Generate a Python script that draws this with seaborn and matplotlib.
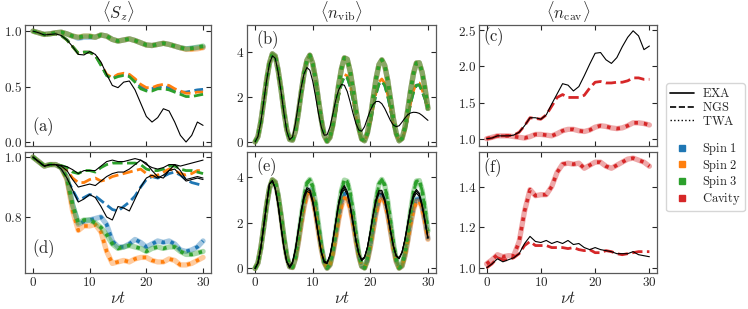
import numpy as np
import matplotlib
matplotlib.use("Agg")
import matplotlib.pyplot as plt
from matplotlib.lines import Line2D
import seaborn as sns

# time grids
T1 = list(range(31))
T_HALF = [i / 2 for i in range(61)]

SPINS = ["Spin 1", "Spin 2", "Spin 3"]
COLORS = {"Spin 1": "#1f77b4", "Spin 2": "#ff7f0e", "Spin 3": "#2ca02c", "Cavity": "#d62728"}

# ---------------- panel (a): <S_z>, step 1 ----------------
a_exa = [1.0, 0.985, 0.965, 0.97, 0.975, 0.96, 0.92, 0.86, 0.79, 0.785, 0.815, 0.79, 0.72, 0.61, 0.51, 0.49,
         0.54, 0.55, 0.47, 0.35, 0.23, 0.18, 0.22, 0.30, 0.28, 0.18, 0.06, 0.0, 0.06, 0.18, 0.15]
a_ngs_s1 = [1.0, 0.985, 0.965, 0.97, 0.975, 0.96, 0.92, 0.86, 0.80, 0.81, 0.81, 0.78, 0.70, 0.60, 0.575, 0.60,
            0.61, 0.60, 0.56, 0.50, 0.47, 0.48, 0.50, 0.50, 0.49, 0.47, 0.45, 0.45, 0.46, 0.47, 0.475]
a_ngs_s2 = [1.0, 0.985, 0.965, 0.97, 0.975, 0.96, 0.92, 0.86, 0.80, 0.81, 0.81, 0.78, 0.70, 0.61, 0.58, 0.61,
            0.62, 0.61, 0.57, 0.52, 0.49, 0.49, 0.51, 0.52, 0.51, 0.48, 0.46, 0.44, 0.44, 0.45, 0.45]
a_ngs_s3 = [1.0, 0.985, 0.965, 0.97, 0.975, 0.96, 0.92, 0.86, 0.80, 0.81, 0.81, 0.78, 0.69, 0.60, 0.57, 0.59,
            0.60, 0.59, 0.54, 0.48, 0.46, 0.46, 0.48, 0.48, 0.47, 0.45, 0.43, 0.41, 0.41, 0.42, 0.43]
a_twa_s1 = [1.0, 0.985, 0.97, 0.975, 0.985, 0.99, 0.975, 0.955, 0.935, 0.945, 0.945, 0.945, 0.965, 0.955, 0.925, 0.91,
            0.92, 0.93, 0.915, 0.895, 0.875, 0.87, 0.88, 0.89, 0.88, 0.865, 0.85, 0.84, 0.845, 0.85, 0.855]
a_twa_s2 = [1.0, 0.985, 0.97, 0.975, 0.985, 0.99, 0.975, 0.955, 0.945, 0.955, 0.955, 0.945, 0.965, 0.955, 0.925, 0.91,
            0.92, 0.93, 0.915, 0.895, 0.875, 0.87, 0.88, 0.89, 0.88, 0.865, 0.85, 0.835, 0.835, 0.84, 0.85]
a_twa_s3 = [1.0, 0.985, 0.97, 0.975, 0.985, 0.99, 0.975, 0.955, 0.945, 0.955, 0.955, 0.945, 0.965, 0.955, 0.925, 0.91,
            0.92, 0.93, 0.915, 0.895, 0.875, 0.87, 0.88, 0.89, 0.88, 0.865, 0.85, 0.84, 0.845, 0.855, 0.865]

# ---------------- panel (d): <S_z>, step 1 ----------------
d_exa_s1 = [1.0, 0.985, 0.97, 0.975, 0.975, 0.96, 0.93, 0.89, 0.85, 0.86, 0.875, 0.865, 0.835, 0.80, 0.79, 0.835,
            0.83, 0.82, 0.86, 0.90, 0.93, 0.94, 0.93, 0.94, 0.955, 0.96, 0.94, 0.92, 0.925, 0.93, 0.925]
d_exa_s2 = [1.0, 0.985, 0.97, 0.975, 0.975, 0.97, 0.955, 0.925, 0.90, 0.905, 0.91, 0.905, 0.92, 0.935, 0.945, 0.95,
            0.95, 0.96, 0.975, 0.99, 0.98, 0.955, 0.935, 0.93, 0.955, 0.975, 0.955, 0.925, 0.93, 0.935, 0.93]
d_exa_s3 = [1.0, 0.985, 0.97, 0.975, 0.975, 0.972, 0.968, 0.958, 0.945, 0.955, 0.955, 0.955, 0.97, 0.985, 0.99, 0.985,
            0.985, 0.99, 0.995, 0.99, 0.975, 0.965, 0.96, 0.965, 0.975, 0.975, 0.97, 0.975, 0.98, 0.985, 0.99]
d_ngs_s1 = [1.0, 0.985, 0.97, 0.975, 0.975, 0.96, 0.93, 0.89, 0.855, 0.865, 0.875, 0.87, 0.855, 0.84, 0.825, 0.82,
            0.835, 0.85, 0.87, 0.90, 0.925, 0.935, 0.93, 0.935, 0.945, 0.95, 0.94, 0.925, 0.915, 0.91, 0.905]
d_ngs_s2 = [1.0, 0.985, 0.97, 0.975, 0.975, 0.97, 0.955, 0.93, 0.915, 0.915, 0.925, 0.93, 0.92, 0.925, 0.935, 0.94,
            0.945, 0.95, 0.955, 0.96, 0.945, 0.935, 0.94, 0.95, 0.96, 0.955, 0.945, 0.94, 0.945, 0.955, 0.955]
d_ngs_s3 = [1.0, 0.985, 0.97, 0.975, 0.975, 0.972, 0.965, 0.95, 0.945, 0.955, 0.955, 0.95, 0.965, 0.975, 0.98, 0.98,
            0.98, 0.98, 0.98, 0.975, 0.96, 0.955, 0.955, 0.96, 0.97, 0.97, 0.96, 0.955, 0.955, 0.95, 0.945]
d_twa_s1 = [1.0, 0.985, 0.97, 0.975, 0.975, 0.965, 0.93, 0.84, 0.775, 0.785, 0.79, 0.795, 0.80, 0.775, 0.72, 0.70,
            0.70, 0.71, 0.725, 0.715, 0.70, 0.71, 0.72, 0.715, 0.72, 0.71, 0.69, 0.685, 0.69, 0.70, 0.72]
d_twa_s2 = [1.0, 0.985, 0.97, 0.975, 0.975, 0.965, 0.925, 0.82, 0.755, 0.77, 0.77, 0.775, 0.75, 0.685, 0.645, 0.65,
            0.655, 0.65, 0.66, 0.665, 0.665, 0.655, 0.65, 0.65, 0.66, 0.655, 0.64, 0.64, 0.645, 0.655, 0.665]
d_twa_s3 = [1.0, 0.985, 0.97, 0.975, 0.975, 0.965, 0.93, 0.84, 0.78, 0.79, 0.79, 0.78, 0.765, 0.74, 0.71, 0.695,
            0.70, 0.705, 0.70, 0.695, 0.685, 0.695, 0.70, 0.695, 0.70, 0.70, 0.685, 0.675, 0.675, 0.68, 0.685]

# ---------------- panel (b): <n_vib>, step 0.5 ----------------
b_exa = [0.00, 0.24, 0.89, 1.79, 2.73, 3.48, 3.83, 3.72, 3.11, 2.25, 1.31, 0.48, 0.10, 0.22, 0.82, 1.66,
         2.43, 3.03, 3.31, 3.19, 2.71, 2.02, 1.27, 0.65, 0.30, 0.32, 0.67, 1.24, 1.86, 2.31, 2.56, 2.52,
         2.24, 1.78, 1.27, 0.82, 0.53, 0.48, 0.68, 1.05, 1.41, 1.67, 1.80, 1.80, 1.70, 1.49, 1.22, 0.95,
         0.75, 0.68, 0.72, 0.88, 1.06, 1.21, 1.29, 1.32, 1.31, 1.27, 1.18, 1.07, 0.96]
b_ngs_s2 = [0.00, 0.24, 0.90, 1.81, 2.75, 3.50, 3.92, 3.82, 3.20, 2.34, 1.38, 0.56, 0.11, 0.08, 0.47, 1.25,
            2.19, 3.05, 3.63, 3.86, 3.49, 2.79, 1.88, 0.98, 0.28, 0.03, 0.18, 0.65, 1.34, 2.06, 2.67, 3.00,
            2.94, 2.53, 1.89, 1.16, 0.50, 0.11, 0.05, 0.32, 0.85, 1.54, 2.20, 2.66, 2.80, 2.61, 2.13, 1.47,
            0.79, 0.30, 0.05, 0.12, 0.48, 1.07, 1.73, 2.29, 2.61, 2.62, 2.31, 1.95, 1.45]
b_ngs_s13 = [0.00, 0.24, 0.90, 1.81, 2.75, 3.50, 3.92, 3.82, 3.20, 2.34, 1.38, 0.56, 0.11, 0.08, 0.47, 1.25,
             2.19, 3.05, 3.63, 3.86, 3.49, 2.79, 1.88, 0.98, 0.28, 0.03, 0.18, 0.65, 1.34, 2.06, 2.60, 2.92,
             2.86, 2.47, 1.89, 1.16, 0.50, 0.11, 0.05, 0.32, 0.85, 1.54, 2.14, 2.58, 2.70, 2.52, 2.06, 1.47,
             0.79, 0.30, 0.05, 0.12, 0.48, 1.07, 1.73, 2.22, 2.52, 2.54, 2.25, 1.90, 1.42]
b_twa = [0.00, 0.24, 0.90, 1.81, 2.75, 3.50, 3.92, 3.82, 3.20, 2.34, 1.38, 0.56, 0.11, 0.08, 0.47, 1.25,
         2.19, 3.05, 3.63, 3.86, 3.49, 2.79, 1.88, 0.98, 0.29, 0.03, 0.20, 0.76, 1.62, 2.53, 3.27, 3.74,
         3.68, 3.14, 2.36, 1.45, 0.63, 0.13, 0.05, 0.40, 1.08, 1.96, 2.82, 3.44, 3.65, 3.40, 2.77, 1.92,
         1.04, 0.38, 0.05, 0.15, 0.63, 1.43, 2.31, 3.05, 3.51, 3.52, 3.09, 2.37, 1.49]

# ---------------- panel (e): <n_vib>, step 0.5 ----------------
e_exa_s1 = [0.00, 0.24, 0.90, 1.85, 2.80, 3.70, 3.84, 3.50, 2.79, 1.83, 0.93, 0.29, 0.05, 0.25, 0.83, 1.65,
            2.48, 3.14, 3.47, 3.40, 2.95, 2.23, 1.44, 0.71, 0.28, 0.23, 0.56, 1.21, 2.03, 2.82, 3.37, 3.55,
            3.31, 2.74, 1.99, 1.23, 0.64, 0.36, 0.48, 0.92, 1.61, 2.36, 3.00, 3.35, 3.35, 3.00, 2.38, 1.65,
            0.98, 0.54, 0.44, 0.70, 1.25, 1.96, 2.67, 3.18, 3.39, 3.23, 2.75, 2.06, 1.33]
e_exa_s2 = [0.00, 0.24, 0.90, 1.85, 2.80, 3.70, 3.84, 3.50, 2.79, 1.83, 0.93, 0.29, 0.10, 0.29, 0.85, 1.63,
            2.43, 3.06, 3.38, 3.31, 2.88, 2.19, 1.43, 0.73, 0.32, 0.27, 0.59, 1.21, 2.00, 2.76, 3.29, 3.46,
            3.23, 2.68, 1.96, 1.23, 0.66, 0.40, 0.51, 0.93, 1.60, 2.32, 2.93, 3.27, 3.27, 2.93, 2.33, 1.63,
            0.99, 0.57, 0.47, 0.72, 1.25, 1.93, 2.61, 3.10, 3.30, 3.15, 2.69, 2.03, 1.33]
e_exa_s3 = [0.00, 0.24, 0.90, 1.85, 2.80, 3.70, 3.84, 3.50, 2.79, 1.83, 0.93, 0.29, 0.02, 0.23, 0.82, 1.67,
            2.52, 3.20, 3.54, 3.47, 3.01, 2.27, 1.45, 0.70, 0.26, 0.21, 0.55, 1.22, 2.06, 2.87, 3.44, 3.63,
            3.38, 2.79, 2.02, 1.24, 0.63, 0.34, 0.46, 0.92, 1.63, 2.40, 3.06, 3.42, 3.42, 3.06, 2.42, 1.67,
            0.98, 0.53, 0.42, 0.69, 1.26, 1.99, 2.72, 3.25, 3.46, 3.30, 2.80, 2.09, 1.34]
e_twa_s1 = [0.00, 0.24, 0.90, 1.81, 2.76, 3.51, 3.88, 3.78, 3.18, 2.30, 1.33, 0.53, 0.07, 0.04, 0.43, 1.13,
            1.98, 2.76, 3.30, 3.45, 3.15, 2.51, 1.68, 0.87, 0.26, 0.01, 0.15, 0.67, 1.43, 2.23, 2.90, 3.27,
            3.23, 2.78, 2.08, 1.27, 0.55, 0.09, 0.02, 0.35, 0.95, 1.72, 2.48, 3.02, 3.20, 3.00, 2.44, 1.68,
            0.90, 0.31, 0.01, 0.10, 0.55, 1.24, 2.00, 2.66, 3.04, 3.06, 2.71, 2.07, 1.31]
e_twa_s2 = [0.00, 0.24, 0.90, 1.81, 2.76, 3.51, 3.88, 3.78, 3.18, 2.30, 1.32, 0.53, 0.07, 0.04, 0.42, 1.10,
            1.92, 2.68, 3.20, 3.35, 3.04, 2.40, 1.59, 0.82, 0.24, 0.01, 0.14, 0.63, 1.34, 2.10, 2.73, 3.08,
            3.03, 2.63, 1.98, 1.22, 0.53, 0.09, 0.02, 0.34, 0.92, 1.67, 2.40, 2.93, 3.10, 2.90, 2.37, 1.62,
            0.86, 0.29, 0.01, 0.10, 0.53, 1.20, 1.94, 2.57, 2.94, 2.96, 2.62, 2.01, 1.27]
e_twa_s3 = [0.00, 0.24, 0.90, 1.81, 2.76, 3.51, 3.88, 3.78, 3.23, 2.36, 1.40, 0.57, 0.08, 0.05, 0.48, 1.28,
            2.23, 3.12, 3.73, 3.90, 3.59, 2.88, 1.94, 1.01, 0.30, 0.02, 0.18, 0.79, 1.68, 2.64, 3.43, 3.87,
            3.82, 3.30, 2.49, 1.53, 0.66, 0.11, 0.02, 0.43, 1.15, 2.10, 3.02, 3.69, 3.90, 3.65, 2.99, 2.07,
            1.12, 0.38, 0.02, 0.13, 0.69, 1.56, 2.52, 3.34, 3.83, 3.85, 3.41, 2.61, 1.65]

# ---------------- panel (c) and (f): <n_cav>, step 1 ----------------
c_exa = [1.0, 1.01, 1.04, 1.04, 1.04, 1.05, 1.09, 1.18, 1.29, 1.29, 1.27, 1.33, 1.48, 1.62, 1.76, 1.74,
         1.66, 1.72, 1.87, 2.03, 2.18, 2.19, 2.09, 2.04, 2.12, 2.27, 2.40, 2.49, 2.42, 2.23, 2.28]
c_ngs = [1.0, 1.01, 1.04, 1.04, 1.04, 1.05, 1.09, 1.18, 1.29, 1.28, 1.27, 1.33, 1.45, 1.57, 1.61, 1.57,
         1.57, 1.57, 1.60, 1.70, 1.78, 1.79, 1.77, 1.77, 1.78, 1.78, 1.80, 1.84, 1.84, 1.82, 1.82]
c_twa = [1.0, 1.02, 1.04, 1.04, 1.04, 1.03, 1.02, 1.01, 1.03, 1.06, 1.06, 1.05, 1.04, 1.07, 1.11, 1.13,
         1.13, 1.11, 1.10, 1.12, 1.16, 1.18, 1.17, 1.15, 1.14, 1.15, 1.18, 1.22, 1.22, 1.21, 1.19]
f_exa = [1.0, 1.02, 1.045, 1.03, 1.04, 1.05, 1.07, 1.12, 1.155, 1.13, 1.125, 1.135, 1.12, 1.13, 1.12, 1.135,
         1.115, 1.12, 1.10, 1.09, 1.10, 1.09, 1.085, 1.08, 1.07, 1.07, 1.07, 1.08, 1.065, 1.06, 1.055]
f_ngs = [1.0, 1.02, 1.05, 1.04, 1.04, 1.05, 1.07, 1.11, 1.13, 1.11, 1.11, 1.11, 1.10, 1.10, 1.10, 1.095,
         1.10, 1.09, 1.085, 1.09, 1.075, 1.075, 1.085, 1.08, 1.07, 1.065, 1.07, 1.075, 1.08, 1.08, 1.08]
f_twa = [1.02, 1.04, 1.065, 1.055, 1.06, 1.06, 1.13, 1.28, 1.385, 1.355, 1.36, 1.36, 1.40, 1.47, 1.51, 1.515,
         1.51, 1.515, 1.49, 1.505, 1.52, 1.52, 1.50, 1.49, 1.505, 1.52, 1.535, 1.54, 1.53, 1.52, 1.50]

sns.set_style("ticks")
plt.rcParams.update({
    "font.family": "serif",
    "font.serif": ["cmr10", "DejaVu Serif"],
    "mathtext.fontset": "cm",
    "axes.formatter.use_mathtext": True,
    "axes.unicode_minus": False,
    "xtick.direction": "in",
    "ytick.direction": "in",
    "xtick.top": True,
    "ytick.right": True,
    "xtick.major.size": 3.5,
    "ytick.major.size": 3.5,
    "xtick.labelsize": 9.5,
    "ytick.labelsize": 9.5,
    "axes.edgecolor": "0.35",
    "axes.linewidth": 0.9,
})

fig = plt.figure(figsize=(7.48, 3.09), dpi=100)
W, H = 748.0, 309.0


def add_ax(l, r, t, b):
    return fig.add_axes([l / W, 1 - b / H, (r - l) / W, (b - t) / H])


ax_a = add_ax(25, 211, 25, 146)
ax_d = add_ax(25, 211, 152, 273)
ax_b = add_ax(247, 436, 25, 146)
ax_e = add_ax(247, 436, 152, 273)
ax_c = add_ax(479, 657, 25, 146)
ax_f = add_ax(479, 657, 152, 273)


def draw_ngs(ax, t, y, color):
    sns.lineplot(x=t, y=y, ax=ax, color=color, lw=2.0, linestyle="--", zorder=2)


def draw_twa(ax, t, y, color):
    sns.lineplot(x=t, y=y, ax=ax, color=color, lw=3.8, alpha=0.4, zorder=3)
    sns.lineplot(x=t, y=y, ax=ax, color=color, lw=2.6, linestyle=":", zorder=3)


def draw_exa(ax, t, y):
    sns.lineplot(x=t, y=y, ax=ax, color="black", lw=0.8, zorder=4)


# (a)
for s, y in zip(SPINS, [a_ngs_s1, a_ngs_s2, a_ngs_s3]):
    draw_ngs(ax_a, T1, y, COLORS[s])
for s, y in zip(SPINS, [a_twa_s1, a_twa_s2, a_twa_s3]):
    draw_twa(ax_a, T1, y, COLORS[s])
draw_exa(ax_a, T1, a_exa)

# (d)
for s, y in zip(SPINS, [d_ngs_s1, d_ngs_s2, d_ngs_s3]):
    draw_ngs(ax_d, T1, y, COLORS[s])
for s, y in zip(SPINS, [d_twa_s1, d_twa_s2, d_twa_s3]):
    draw_twa(ax_d, T1, y, COLORS[s])
for y in [d_exa_s1, d_exa_s2, d_exa_s3]:
    draw_exa(ax_d, T1, y)

# (b)
for s, y in zip(SPINS, [b_ngs_s13, b_ngs_s2, b_ngs_s13]):
    draw_ngs(ax_b, T_HALF, y, COLORS[s])
for s in SPINS:
    draw_twa(ax_b, T_HALF, b_twa, COLORS[s])
draw_exa(ax_b, T_HALF, b_exa)

# (e) NGS is indistinguishable from TWA in this panel
for s, y in zip(SPINS, [e_twa_s1, e_twa_s2, e_twa_s3]):
    draw_ngs(ax_e, T_HALF, y, COLORS[s])
for s, y in zip(SPINS, [e_twa_s1, e_twa_s2, e_twa_s3]):
    draw_twa(ax_e, T_HALF, y, COLORS[s])
for y in [e_exa_s1, e_exa_s2, e_exa_s3]:
    draw_exa(ax_e, T_HALF, y)

# (c), (f)
for ax, ngs, twa, exa in [(ax_c, c_ngs, c_twa, c_exa), (ax_f, f_ngs, f_twa, f_exa)]:
    draw_ngs(ax, T1, ngs, COLORS["Cavity"])
    draw_twa(ax, T1, twa, COLORS["Cavity"])
    draw_exa(ax, T1, exa)

limits = {
    ax_a: ((-0.036, 1.055), [0.0, 0.5, 1.0], "%.1f"),
    ax_d: ((0.613, 1.017), [0.8, 1.0], "%.1f"),
    ax_b: ((-0.18, 5.2), [0, 2, 4], "%d"),
    ax_e: ((-0.2, 5.1), [0, 2, 4], "%d"),
    ax_c: ((0.90, 2.57), [1.0, 1.5, 2.0, 2.5], "%.1f"),
    ax_f: ((0.975, 1.57), [1.0, 1.2, 1.4], "%.1f"),
}
for ax, (ylim, yt, fmt) in limits.items():
    ax.set_xlim(-1.4, 31.4)
    ax.set_ylim(*ylim)
    ax.set_yticks(yt)
    ax.set_yticklabels(["$" + fmt % v + "$" for v in yt])
    ax.set_xticks([0, 10, 20, 30])
    ax.set_xlabel("")
    ax.set_ylabel("")
    ax.tick_params(colors="0.15", width=0.8, pad=2)

for ax in [ax_a, ax_b, ax_c]:
    ax.set_xticklabels([])
for ax in [ax_d, ax_e, ax_f]:
    ax.set_xticklabels(["$%d$" % v for v in [0, 10, 20, 30]])
    ax.set_xlabel(r"$\nu t$", fontsize=12, labelpad=1)

ax_a.set_title(r"$\langle S_z \rangle$", fontsize=12, pad=5)
ax_b.set_title(r"$\langle n_{\mathrm{vib}} \rangle$", fontsize=12, pad=5)
ax_c.set_title(r"$\langle n_{\mathrm{cav}} \rangle$", fontsize=12, pad=5)

panel_labels = [(ax_a, "(a)", 0.04, 0.16), (ax_d, "(d)", 0.04, 0.2),
                (ax_b, "(b)", 0.05, 0.88), (ax_e, "(e)", 0.05, 0.88),
                (ax_c, "(c)", 0.025, 0.9), (ax_f, "(f)", 0.025, 0.87)]
for ax, txt, x, y in panel_labels:
    ax.text(x, y, r"$\mathrm{%s}$" % txt, transform=ax.transAxes, fontsize=12,
            ha="left", va="center", zorder=10)

handles = [
    Line2D([], [], color="black", lw=1.2, linestyle="-"),
    Line2D([], [], color="black", lw=1.2, linestyle="--"),
    Line2D([], [], color="black", lw=1.0, linestyle=":"),
    Line2D([], [], color="none"),
]
labels = [r"$\mathrm{EXA}$", r"$\mathrm{NGS}$", r"$\mathrm{TWA}$", ""]
for name in ["Spin 1", "Spin 2", "Spin 3", "Cavity"]:
    handles.append(Line2D([], [], color=COLORS[name], marker="s", linestyle="none", markersize=4.5))
    labels.append(r"$\mathrm{%s}$" % name.replace(" ", r"\ "))

fig.legend(handles, labels, loc="upper left", bbox_to_anchor=(666 / W, 1 - 83 / H),
           fontsize=9, frameon=True, handlelength=1.9, handletextpad=0.6,
           labelspacing=0.05, borderpad=0.35, borderaxespad=0.0,
           edgecolor="0.8", fancybox=True)

fig.savefig("out.png", dpi=100)
